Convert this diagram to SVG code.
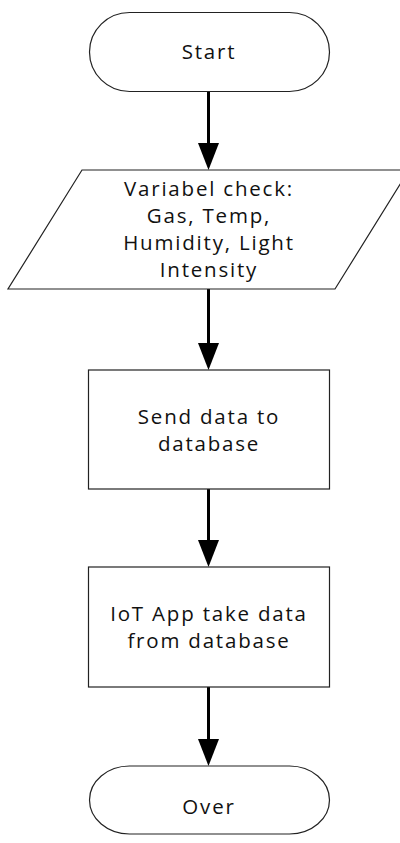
<svg xmlns="http://www.w3.org/2000/svg" width="400" height="843" viewBox="0 0 400 843">
  <style>
    .shape { fill: #ffffff; stroke: #222222; stroke-width: 1.2; }
    .label { font-family: "Open Sans", "Noto Sans", "DejaVu Sans", sans-serif; font-size: 20.5px; letter-spacing: 1.8px; fill: #111111; text-anchor: middle; }
    .flow { stroke: #000000; stroke-width: 3; fill: none; marker-end: url(#head); }
  </style>
  <defs>
    <marker id="head" markerUnits="userSpaceOnUse" markerWidth="27" markerHeight="21" viewBox="0 0 27 21" refX="0" refY="10.5" orient="auto">
      <path d="M0,0 L27,10.5 L0,21 Z" fill="#000000"/>
    </marker>
  </defs>

  <rect width="400" height="843" fill="#ffffff"/>

  <g id="connectors">
    <line class="flow" x1="208.5" y1="91" x2="208.5" y2="143"/>
    <line class="flow" x1="208.5" y1="289" x2="208.5" y2="343"/>
    <line class="flow" x1="208.5" y1="489" x2="208.5" y2="540"/>
    <line class="flow" x1="208.5" y1="687" x2="208.5" y2="739"/>
  </g>

  <g id="start">
    <rect class="shape" x="89.5" y="12.5" width="240" height="79" rx="40" ry="39.5"/>
    <text class="label" x="209" y="59">Start</text>
  </g>

  <g id="variable-check">
    <polygon class="shape" points="82,170 409,170 335,289 8,289"/>
    <text class="label" x="209" y="196">Variabel check:</text>
    <text class="label" x="209" y="223">Gas, Temp,</text>
    <text class="label" x="209" y="250">Humidity, Light</text>
    <text class="label" x="209" y="277">Intensity</text>
  </g>

  <g id="send-data">
    <rect class="shape" x="88.5" y="370" width="241" height="119"/>
    <text class="label" x="209" y="424">Send data to</text>
    <text class="label" x="209" y="451">database</text>
  </g>

  <g id="app-take-data">
    <rect class="shape" x="88.5" y="567" width="241" height="120"/>
    <text class="label" x="209" y="621">IoT App take data</text>
    <text class="label" x="209" y="648">from database</text>
  </g>

  <g id="over">
    <rect class="shape" x="89.5" y="766" width="240" height="68" rx="40" ry="34"/>
    <text class="label" x="209" y="814">Over</text>
  </g>
</svg>
